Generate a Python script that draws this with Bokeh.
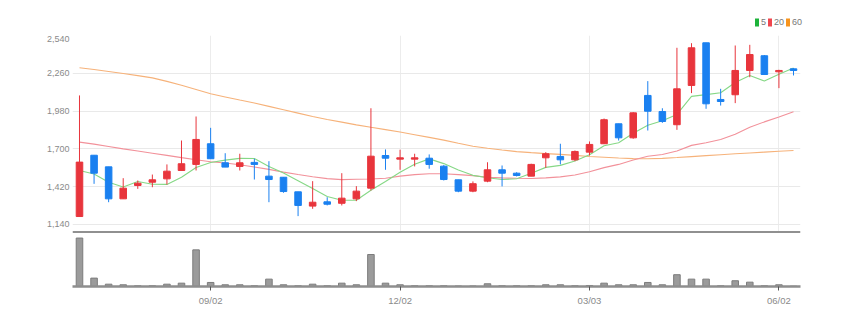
from bokeh.plotting import figure
from bokeh.layouts import column
from bokeh.models import (ColumnDataSource, Range1d, FixedTicker, NumeralTickFormatter,
                          Legend, LegendItem, Span)
from bokeh.embed import file_html
from bokeh.resources import INLINE

# ---- data (weekly candles) ----
tick_index = [9, 22, 35, 48]
tick_labels = ["09/02", "12/02", "03/03", "06/02"]
price_ticks = [1140, 1420, 1700, 1980, 2260, 2540]
ma_names = ["5", "20", "60"]

opens = [1199, 1653, 1567, 1330, 1429, 1453, 1478, 1540, 1585, 1738,
         1597, 1570, 1600, 1498, 1490, 1382, 1276, 1308, 1297, 1330,
         1409, 1651, 1624, 1624, 1631, 1572, 1471, 1387, 1461, 1545,
         1520, 1498, 1634, 1644, 1619, 1676, 1738, 1886, 1782, 2096,
         1977, 1879, 2170, 2486, 2066, 2101, 2281, 2390, 2271, 2293]
highs = [2096, 1653, 1567, 1483, 1466, 1510, 1585, 1762, 1940, 1856,
         1668, 1664, 1627, 1609, 1490, 1382, 1461, 1342, 1520, 1424,
         2001, 1696, 1694, 1664, 1659, 1580, 1471, 1459, 1601, 1577,
         1527, 1590, 1676, 1738, 1688, 1755, 1925, 1886, 1972, 2202,
         2001, 2449, 2483, 2486, 2145, 2466, 2471, 2395, 2286, 2298]
lows = [1199, 1441, 1305, 1330, 1404, 1416, 1436, 1540, 1540, 1627,
        1565, 1540, 1473, 1305, 1375, 1202, 1256, 1281, 1281, 1313,
        1392, 1545, 1545, 1570, 1553, 1466, 1379, 1379, 1453, 1422,
        1496, 1498, 1560, 1585, 1609, 1651, 1738, 1762, 1775, 1836,
        1893, 1841, 2113, 1997, 2021, 2039, 2231, 2251, 2150, 2244]
closes = [1602, 1520, 1330, 1409, 1446, 1471, 1535, 1590, 1770, 1627,
          1565, 1597, 1585, 1473, 1384, 1281, 1305, 1290, 1335, 1387,
          1646, 1631, 1634, 1634, 1585, 1473, 1387, 1442, 1545, 1520,
          1503, 1585, 1664, 1619, 1681, 1733, 1916, 1782, 1967, 1979,
          1903, 2145, 2449, 2034, 2051, 2281, 2399, 2251, 2281, 2281]
volumes = [48000, 8300, 2300, 1700, 700, 700, 2300, 3300, 36300, 4000,
           1700, 1700, 700, 7300, 1700, 700, 2300, 700, 3300, 1700,
           31700, 3300, 1700, 700, 700, 700, 500, 500, 2700, 700,
           700, 700, 1700, 1700, 700, 1000, 3300, 1700, 1700, 4000,
           1700, 11700, 7300, 7300, 700, 5700, 4300, 700, 1700, 300]
ma5 = [1540, 1514, 1453, 1418, 1458, 1438, 1437, 1490, 1562, 1599,
       1617, 1630, 1629, 1569, 1521, 1464, 1406, 1347, 1319, 1320,
       1393, 1458, 1527, 1586, 1626, 1591, 1543, 1504, 1486, 1473,
       1479, 1519, 1563, 1578, 1610, 1656, 1723, 1746, 1816, 1875,
       1909, 1955, 2089, 2102, 2116, 2192, 2243, 2203, 2253, 2299]
ma20 = [1750, 1735, 1718, 1700, 1684, 1668, 1652, 1635, 1620, 1605,
        1595, 1582, 1566, 1548, 1528, 1510, 1494, 1480, 1472, 1475,
        1477, 1483, 1498, 1509, 1516, 1516, 1509, 1502, 1490, 1485,
        1482, 1481, 1485, 1493, 1507, 1530, 1561, 1585, 1617, 1646,
        1659, 1685, 1726, 1746, 1769, 1809, 1860, 1900, 1937, 1975]
ma60 = [2301, 2288, 2273, 2258, 2243, 2226, 2200, 2172, 2140, 2108,
        2085, 2062, 2040, 2015, 1990, 1965, 1940, 1918, 1898, 1878,
        1860, 1843, 1825, 1805, 1785, 1765, 1742, 1720, 1705, 1692,
        1680, 1672, 1665, 1659, 1652, 1644, 1638, 1632, 1628, 1627,
        1630, 1636, 1643, 1650, 1657, 1664, 1670, 1676, 1682, 1688]

FONT = "Liberation Sans Narrow, Liberation Sans, sans-serif"
RED = "#e8353c"
BLUE = "#1a80f0"
LEGEND_COLORS = ["#1db33a", "#f0464e", "#f7941d"]

n = len(closes)
xs = list(range(n))
colors = [RED if c >= o else BLUE for o, c in zip(opens, closes)]
src = ColumnDataSource(dict(
    x=xs, open=opens, high=highs, low=lows, close=closes,
    top=[max(o, c) for o, c in zip(opens, closes)],
    bottom=[min(o, c) for o, c in zip(opens, closes)],
    color=colors, vol=volumes, ma5=ma5, ma20=ma20, ma60=ma60))

xr = Range1d(-0.48, n - 1 + 0.48)

# ---- legend strip ----
lg = figure(frame_width=782, frame_height=35, x_range=Range1d(0, 1), y_range=Range1d(0, 1),
            min_border_left=72, min_border_right=0, min_border_top=0, min_border_bottom=0,
            output_backend="svg", toolbar_location=None)
lg.axis.visible = False
lg.grid.visible = False
lg.outline_line_color = None
lg.border_fill_color = "white"
swatch = ColumnDataSource(dict(x=[0], t=[0], b=[0]))  # zero-height swatch carriers
items = []
for name, col in zip(ma_names, LEGEND_COLORS):
    r = lg.vbar("x", 0.4, "t", "b", source=swatch, fill_color=col, line_color=None)
    items.append(LegendItem(label=name, renderers=[r]))
leg = Legend(items=items, orientation="horizontal", location=(682, 8),
             glyph_width=5, glyph_height=10, label_height=10, label_width=4,
             label_standoff=2, spacing=1, padding=0, margin=0,
             border_line_color=None, background_fill_alpha=0,
             label_text_font=FONT, label_text_font_size="9px", label_text_color="#777777")
lg.add_layout(leg, "center")

# ---- price panel ----
p = figure(frame_width=728, frame_height=196, x_range=xr, y_range=Range1d(1088, 2540),
           min_border_left=72, min_border_right=54, min_border_top=0, min_border_bottom=0,
           output_backend="svg", toolbar_location=None)
p.outline_line_color = None
p.background_fill_color = "white"
p.border_fill_color = "white"
p.xaxis.visible = False
p.yaxis.ticker = FixedTicker(ticks=price_ticks)
p.yaxis.formatter = NumeralTickFormatter(format="0,0")
p.yaxis.axis_line_color = None
p.yaxis.major_tick_line_color = None
p.yaxis.minor_tick_line_color = None
p.yaxis.major_tick_out = 0
p.yaxis.major_tick_in = 0
p.yaxis.major_label_standoff = 3
p.yaxis.major_label_text_font = FONT
p.yaxis.major_label_text_font_size = "9px"
p.yaxis.major_label_text_color = "#8a8a8a"
p.ygrid.ticker = FixedTicker(ticks=price_ticks)
p.ygrid.grid_line_color = "#e9e9e9"
p.xgrid.ticker = FixedTicker(ticks=tick_index)
p.xgrid.grid_line_color = "#ececec"

p.line("x", "ma60", source=src, line_color="#f6b27a", line_width=1.1)
p.line("x", "ma20", source=src, line_color="#f2919a", line_width=1.1)
p.line("x", "ma5", source=src, line_color="#86d886", line_width=1.1)
p.segment("x", "high", "x", "low", source=src, line_color="color", line_width=1)
p.vbar("x", 0.45, "top", "bottom", source=src, fill_color="color", line_color="color")

# ---- volume panel ----
vol_top = max(volumes) * 54.5 / 48
v = figure(frame_width=728, frame_height=55, x_range=xr, y_range=Range1d(0, vol_top),
           min_border_left=72, min_border_right=54, min_border_top=0, min_border_bottom=35,
           output_backend="svg", toolbar_location=None)
v.outline_line_color = None
v.border_fill_color = "white"
v.yaxis.visible = False
v.grid.visible = False
v.vbar("x", 0.45, "vol", 0, source=src, fill_color="#9b9b9b", line_color="#7c7c7c")
v.add_layout(Span(location=vol_top, dimension="width", line_color="#222222", line_width=2))
v.xaxis.ticker = FixedTicker(ticks=tick_index)
v.xaxis.major_label_overrides = {i: s for i, s in zip(tick_index, tick_labels)}
v.xaxis.axis_line_color = "#8e8e8e"
v.xaxis.axis_line_width = 2.5
v.xaxis.major_tick_line_color = "#555555"
v.xaxis.major_tick_out = 4
v.xaxis.major_tick_in = 0
v.xaxis.minor_tick_line_color = None
v.xaxis.major_label_standoff = 4
v.xaxis.major_label_text_font = FONT
v.xaxis.major_label_text_font_size = "9.5px"
v.xaxis.major_label_text_color = "#8a8a8a"

layout = column(lg, p, v, spacing=0)
open("out.html", "w").write(file_html(layout, INLINE))
